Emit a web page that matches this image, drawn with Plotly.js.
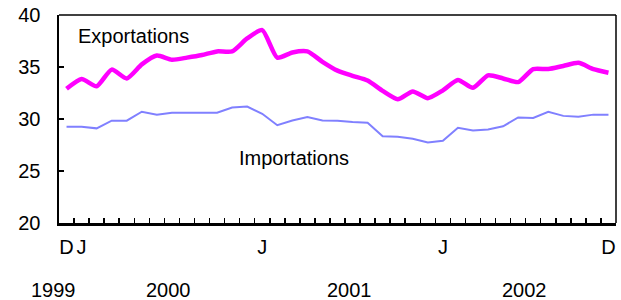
<!DOCTYPE html>
<html>
<head>
<meta charset="utf-8">
<script src="https://cdn.plot.ly/plotly-3.0.1.min.js"></script>
<style>html,body{margin:0;padding:0;background:#fff;}#chart{width:621px;height:300px;}</style>
</head>
<body>
<div id="chart"></div>
<script>
// Monthly index 0 = Dec 1999 ... 36 = Dec 2002
var months = [0,1,2,3,4,5,6,7,8,9,10,11,12,13,14,15,16,17,18,19,20,21,22,23,24,25,26,27,28,29,30,31,32,33,34,35,36];
var exportations = [32.9,33.85,33.15,34.75,33.9,35.25,36.1,35.7,35.9,36.15,36.5,36.5,37.75,38.55,35.9,36.4,36.5,35.5,34.65,34.15,33.7,32.7,31.9,32.65,32.0,32.75,33.75,33.0,34.2,33.9,33.55,34.8,34.8,35.1,35.4,34.8,34.45];
var importations = [29.26,29.26,29.1,29.84,29.84,30.7,30.4,30.6,30.6,30.6,30.6,31.1,31.2,30.5,29.4,29.85,30.2,29.85,29.84,29.7,29.65,28.35,28.3,28.1,27.75,27.9,29.15,28.9,29.0,29.3,30.15,30.1,30.7,30.3,30.22,30.42,30.42];
var monthTickVals = [0,1,13,25,36];
var monthTickText = ['D','J','J','J','D'];
var yearLabels = ['1999','2000','2001','2002'];
var yearPos = [-0.85,6.8,18.8,30.4];
var yTickVals = [20,25,30,35,40];
var seriesNames = ['Exportations','Importations'];
var seriesLabelPos = [[4.45,37.98],[15.1,26.25]];

var xRange = [-0.5, 36.5];
var boundaries = [];
for (var i = 0; i < months.length - 1; i++) boundaries.push(months[i] + 0.5);

var font = 'Liberation Sans, Arial, sans-serif';
var fs = 20;
var traces = [
  {x: months, y: importations, type: 'scatter', mode: 'lines', line: {color: '#8080ff', width: 2}, hoverinfo: 'none'},
  {x: months, y: exportations, type: 'scatter', mode: 'lines', line: {color: '#ff00ff', width: 4.5, shape: 'spline', smoothing: 0.6}, hoverinfo: 'none'},
  {x: [0], y: [null], xaxis: 'x2', type: 'scatter', mode: 'none', hoverinfo: 'none'}
];

function toPaper(v){ return (v - xRange[0]) / (xRange[1] - xRange[0]); }

var annotations = [];
yearLabels.forEach(function(t, k){
  annotations.push({x: toPaper(yearPos[k]), y: 0, xref: 'paper', yref: 'paper', yshift: -67, text: t, showarrow: false, font: {family: font, size: fs, color: '#000'}, xanchor: 'center', yanchor: 'middle'});
});
seriesNames.forEach(function(t, k){
  annotations.push({x: seriesLabelPos[k][0], y: seriesLabelPos[k][1], xref: 'x', yref: 'y', text: t, showarrow: false, font: {family: font, size: fs, color: '#000'}, xanchor: 'center', yanchor: 'middle'});
});

var layout = {
  width: 621, height: 300,
  margin: {l: 59, r: 5, t: 15, b: 77},
  paper_bgcolor: '#fff', plot_bgcolor: '#fff',
  showlegend: false,
  font: {family: font, size: fs, color: '#000'},
  xaxis: {
    range: xRange, showgrid: false, zeroline: false,
    showline: true, linecolor: '#000', linewidth: 2.5,
    tickmode: 'array', tickvals: boundaries,
    ticks: 'inside', ticklen: 5, tickwidth: 1.5, tickcolor: '#000',
    showticklabels: false
  },
  xaxis2: {
    overlaying: 'x', anchor: 'y', side: 'bottom',
    range: xRange, showgrid: false, zeroline: false, showline: false,
    tickmode: 'array', tickvals: monthTickVals, ticktext: monthTickText,
    ticks: '', ticklabelstandoff: 10,
    tickfont: {family: font, size: fs, color: '#000'}
  },
  yaxis: {
    range: [20, 40], showgrid: false, zeroline: false,
    showline: true, linecolor: '#000', linewidth: 2.5,
    tickmode: 'array', tickvals: yTickVals,
    ticks: 'inside', ticklen: 5, tickwidth: 1.5, tickcolor: '#000',
    ticklabelstandoff: 12,
    tickfont: {family: font, size: fs, color: '#000'}
  },
  shapes: [
    {type: 'line', xref: 'paper', yref: 'paper', x0: 0, x1: 1, y0: 1, y1: 1, line: {color: '#000', width: 1.5}},
    {type: 'line', xref: 'paper', yref: 'paper', x0: 1, x1: 1, y0: 0, y1: 1, line: {color: '#000', width: 1.5}}
  ],
  annotations: annotations
};

Plotly.newPlot('chart', traces, layout, {staticPlot: true, displayModeBar: false});
</script>
</body>
</html>
